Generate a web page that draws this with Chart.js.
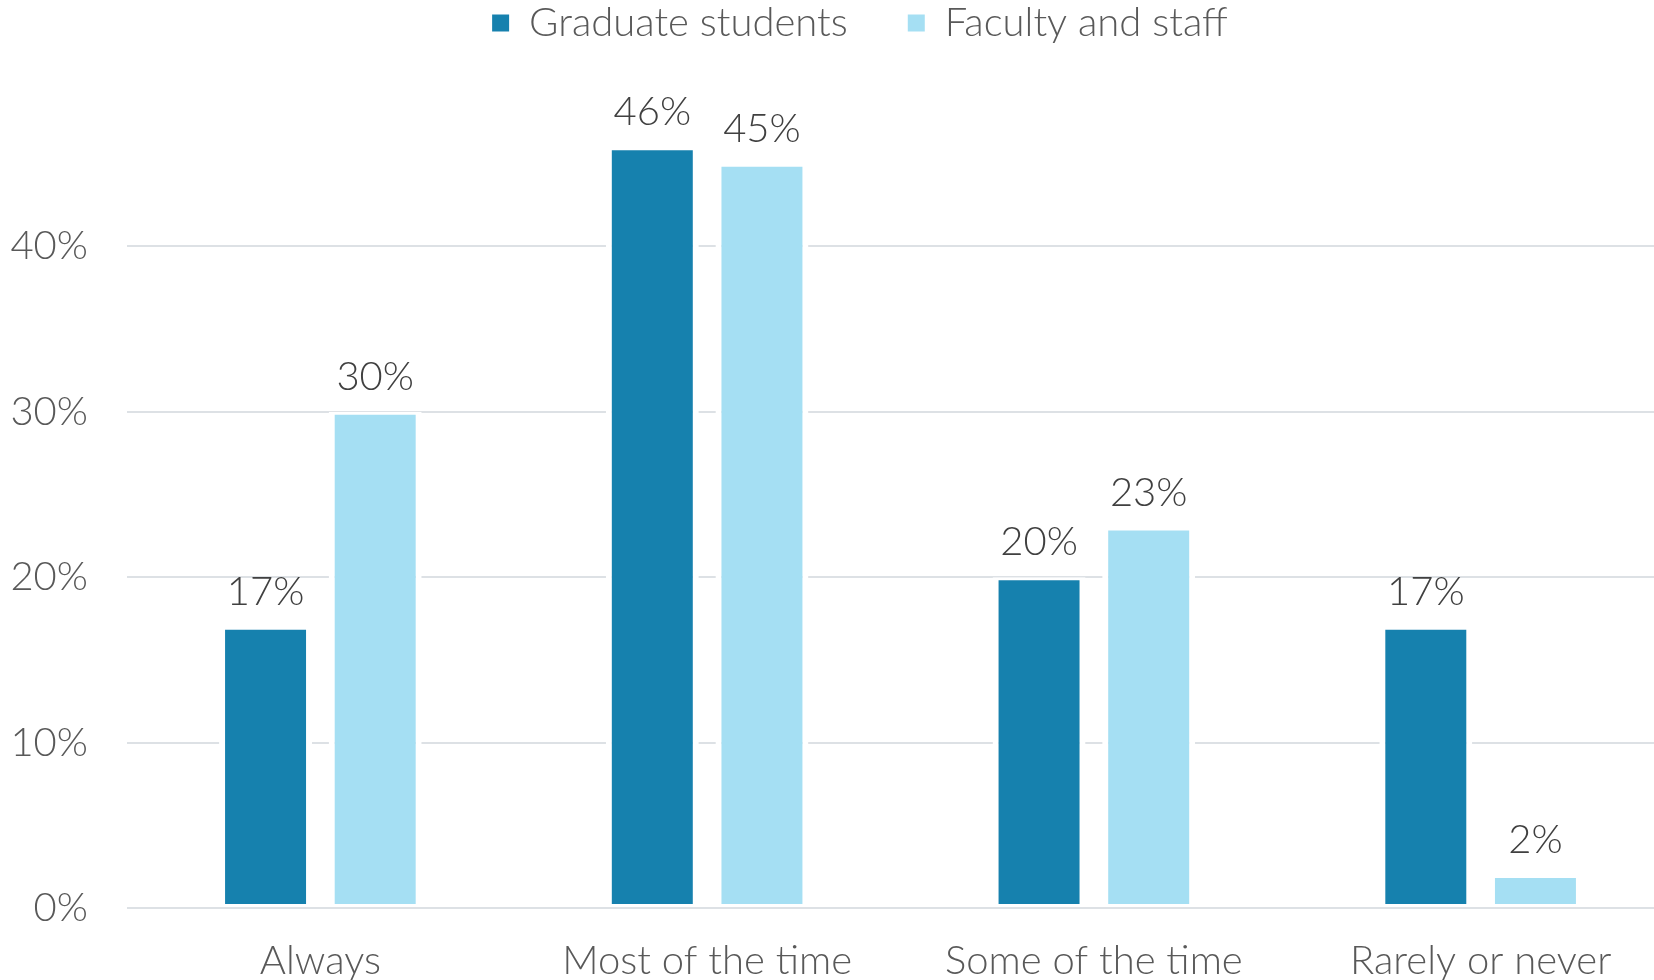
<!DOCTYPE html>
<html>
<head>
<meta charset="utf-8">
<script src="https://cdn.jsdelivr.net/npm/chart.js@4"></script>
<style>
  html, body { margin: 0; padding: 0; background: #fff; overflow: hidden; }
  #wrap { width: 1674px; height: 1014px; }
</style>
</head>
<body>
<div id="wrap"><canvas id="chartFreq"></canvas></div>
<script>
var categories = ['Always', 'Most of the time', 'Some of the time', 'Rarely or never'];
var gradStudents = [17, 46, 20, 17];
var facultyStaff = [30, 45, 23, 2];
var seriesNames = ['Graduate students', 'Faculty and staff'];
var yTicks = [0, 10, 20, 30, 40];

var fontFam = 'Lato, Calibri, "Open Sans", sans-serif';

// value labels above each bar
var barLabels = {
  id: 'barLabels',
  afterDatasetsDraw: function(chart) {
    var ctx = chart.ctx;
    ctx.save();
    ctx.fillStyle = '#404040';
    ctx.font = '300 40px ' + fontFam;
    ctx.textAlign = 'center';
    ctx.textBaseline = 'alphabetic';
    chart.data.datasets.forEach(function(ds, i) {
      chart.getDatasetMeta(i).data.forEach(function(bar, j) {
        ctx.fillText(ds.data[j] + '%', bar.x, bar.y - 22);
      });
    });
    ctx.restore();
  }
};

// taller legend block, nudged a bit to the right
var legendTweak = {
  id: 'legendTweak',
  beforeInit: function(chart) {
    var fit = chart.legend.fit;
    chart.legend.fit = function() {
      fit.bind(chart.legend)();
      this.height = 138;
    };
  },
  afterLayout: function(chart) {
    chart.legend.left += 18;
    chart.legend.right += 18;
  }
};

var ctx = document.getElementById('chartFreq').getContext('2d');
var chartFreq = new Chart(ctx, {
  type: 'bar',
  data: {
    labels: categories,
    datasets: [{
      label: seriesNames[0],
      data: gradStudents,
      backgroundColor: '#1681ae',
      borderColor: '#ffffff',
      borderWidth: {top: 3, left: 6, right: 6, bottom: 3},
      borderSkipped: false
    }, {
      label: seriesNames[1],
      data: facultyStaff,
      backgroundColor: '#a5dff3',
      borderColor: '#ffffff',
      borderWidth: {top: 3, left: 6, right: 6, bottom: 3},
      borderSkipped: false
    }]
  },
  options: {
    responsive: true,
    maintainAspectRatio: false,
    animation: false,
    categoryPercentage: 0.567,
    barPercentage: 0.848,
    layout: {padding: {top: -57, left: 10, right: 0, bottom: 0}},
    plugins: {
      tooltip: {enabled: false},
      legend: {
        position: 'top',
        labels: {
          color: '#595959',
          font: {family: fontFam, size: 40, weight: 300},
          boxWidth: 17,
          boxHeight: 17,
          padding: 60,
          generateLabels: function(chart) {
            var items = Chart.defaults.plugins.legend.labels.generateLabels(chart);
            items.forEach(function(it) { it.lineWidth = 0; });
            return items;
          }
        }
      }
    },
    scales: {
      x: {
        grid: {display: false, drawTicks: false},
        border: {display: false},
        ticks: {
          color: '#595959',
          font: {family: fontFam, size: 40, weight: 300},
          padding: 29,
          maxRotation: 0,
          autoSkip: false
        }
      },
      y: {
        min: 0,
        max: 50,
        afterBuildTicks: function(axis) {
          axis.ticks = yTicks.map(function(v) { return {value: v}; });
        },
        afterFit: function(axis) {
          axis.width = 117;
        },
        grid: {color: '#dde1e5', lineWidth: 2, drawTicks: false},
        border: {display: false},
        ticks: {
          color: '#595959',
          font: {family: fontFam, size: 40, weight: 300},
          padding: 39,
          callback: function(v) { return v + '%'; }
        }
      }
    }
  },
  plugins: [barLabels, legendTweak]
});
</script>
</body>
</html>
